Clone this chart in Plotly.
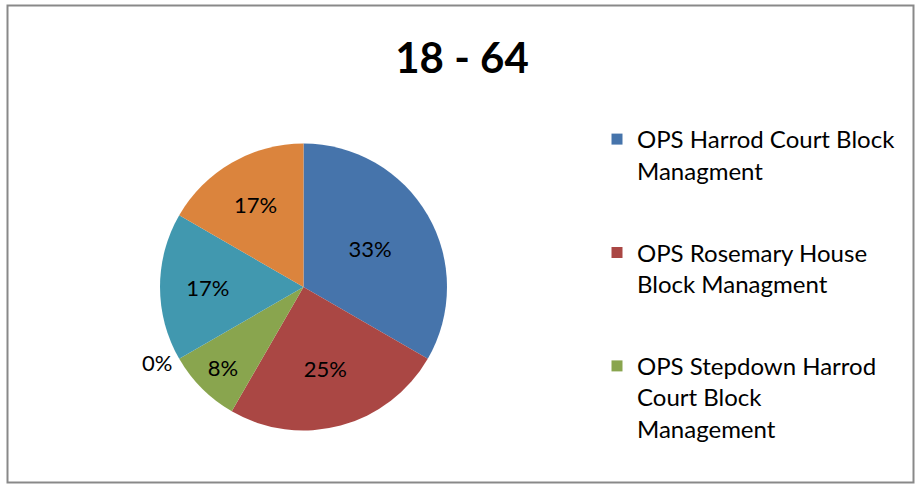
import plotly.graph_objects as go

labels = [
    "OPS Harrod Court Block Managment",
    "OPS Rosemary House Block Managment",
    "OPS Stepdown Harrod Court Block Management",
    "Other 1",
    "Other 2",
    "Other 3",
]
values = [4, 3, 1, 0, 2, 2]
colors = ["#4674AB", "#AA4744", "#89A54E", "#71588F", "#4198AF", "#DB843D"]
legend_labels = [
    "OPS Harrod Court Block<br>Managment",
    "OPS Rosemary House<br>Block Managment",
    "OPS Stepdown Harrod<br>Court Block<br>Management",
]
title_text = "18 - 64"

FONT = "Lato"
W, H = 917, 484

fig = go.Figure()
fig.add_trace(go.Pie(
    labels=labels,
    values=values,
    marker=dict(colors=colors, line=dict(width=0)),
    sort=False,
    direction="clockwise",
    rotation=0,
    texttemplate="%{percent:.0%}",
    textposition=["inside", "inside", "inside", "outside", "inside", "inside"],
    insidetextorientation="horizontal",
    textfont=dict(family=FONT, size=22, color="black"),
    showlegend=False,
    domain=dict(x=[160 / W, 447 / W], y=[53.5 / H, 340.5 / H]),
    hoverinfo="label+percent",
))

for i, name in enumerate(legend_labels):
    fig.add_trace(go.Scatter(
        x=[None], y=[None], mode="markers",
        marker=dict(symbol="square", size=11, color=colors[i]),
        name=name, legendgroup=f"g{i}", showlegend=True,
    ))

fig.update_layout(
    width=W, height=H,
    margin=dict(l=0, r=0, t=0, b=0),
    paper_bgcolor="white",
    plot_bgcolor="white",
    xaxis=dict(visible=False),
    yaxis=dict(visible=False),
    title=dict(
        text=f"<b>{title_text}</b>",
        x=462 / W, xanchor="center",
        y=1 - 58 / H, yanchor="middle",
        font=dict(family=FONT, size=42, color="black"),
    ),
    legend=dict(
        x=597 / W, xanchor="left",
        y=1 - 117 / H, yanchor="top",
        font=dict(family=FONT, size=24, color="black"),
        tracegroupgap=48,
        valign="top",
        itemwidth=30,
        bgcolor="rgba(0,0,0,0)",
    ),
    shapes=[dict(
        type="rect", xref="paper", yref="paper",
        x0=7.5 / W, x1=913.5 / W, y0=1 - 482.5 / H, y1=1 - 5.5 / H,
        line=dict(color="#898989", width=2),
        fillcolor="rgba(0,0,0,0)",
    )],
)

fig.write_html(
    "out.html",
    config={"displayModeBar": False},
    post_script="document.body.style.margin='0';",
)
